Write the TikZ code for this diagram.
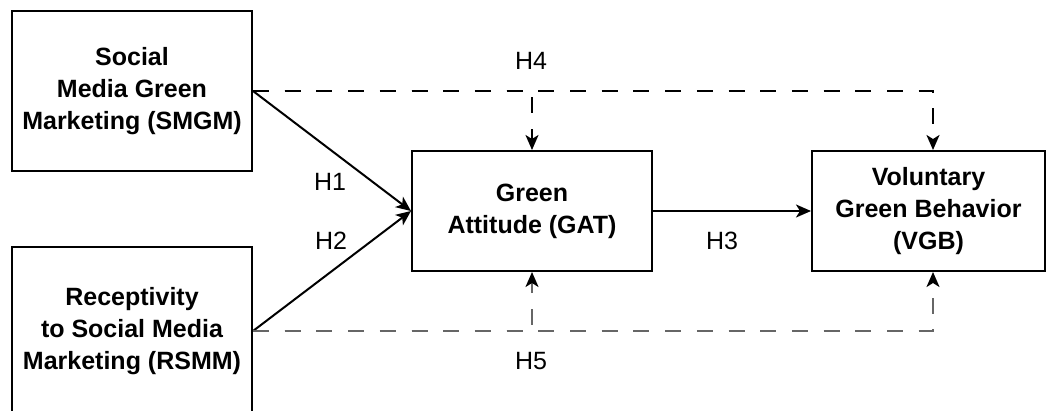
\documentclass[tikz,border=0pt]{standalone}
\usepackage{fontspec}
\setmainfont{Liberation Sans}
\usetikzlibrary{arrows.meta}
\begin{document}
\begin{tikzpicture}[x=1pt,y=-1pt,
  box/.style={draw=black,line width=2pt,inner sep=0pt,align=center,
    font=\fontsize{25}{32}\selectfont\bfseries},
  lbl/.style={inner sep=0pt,font=\fontsize{25}{30}\selectfont},
  conn/.style={line width=2pt,-{Stealth[length=15pt,width=13pt,inset=4pt]}},
  dconn/.style={conn,dash pattern=on 16pt off 15.7pt},
  dconng/.style={dconn,draw=black!60,
    -{Stealth[length=15pt,width=13pt,inset=4pt,fill=black,color=black]}}]
\useasboundingbox (0,0) rectangle (1046,410);
\node[box,minimum width=240pt,minimum height=160pt] (smgm) at (132,91) {Social\\Media Green\\Marketing (SMGM)};
\node[box,minimum width=240pt,minimum height=168pt] (rsmm) at (132,331) {Receptivity\\to Social Media\\Marketing (RSMM)};
\node[box,minimum width=240pt,minimum height=120pt] (gat) at (532,211) {Green\\Attitude (GAT)};
\node[box,minimum width=233pt,minimum height=120pt] (vgb) at (928.5,211) {Voluntary\\Green Behavior\\(VGB)};
\draw[conn] (smgm.east) -- (gat.west);
\draw[conn] (rsmm.east) -- (gat.west);
\draw[conn] (gat.east) -- (vgb.west);
\draw[dconn] (smgm.east) -| ([xshift=4.5pt]vgb.north);
\draw[dconn] (smgm.east) -| (gat.north);
\draw[dconng] (rsmm.east) -| ([xshift=4.5pt]vgb.south);
\draw[dconng] (rsmm.east) -| (gat.south);
\node[lbl] (h1) at (330,182) {H1};
\node[lbl] (h2) at (331,241) {H2};
\node[lbl] (h3) at (722,241) {H3};
\node[lbl] (h4) at (531,61) {H4};
\node[lbl] (h5) at (531,361) {H5};
\end{tikzpicture}
\end{document}
